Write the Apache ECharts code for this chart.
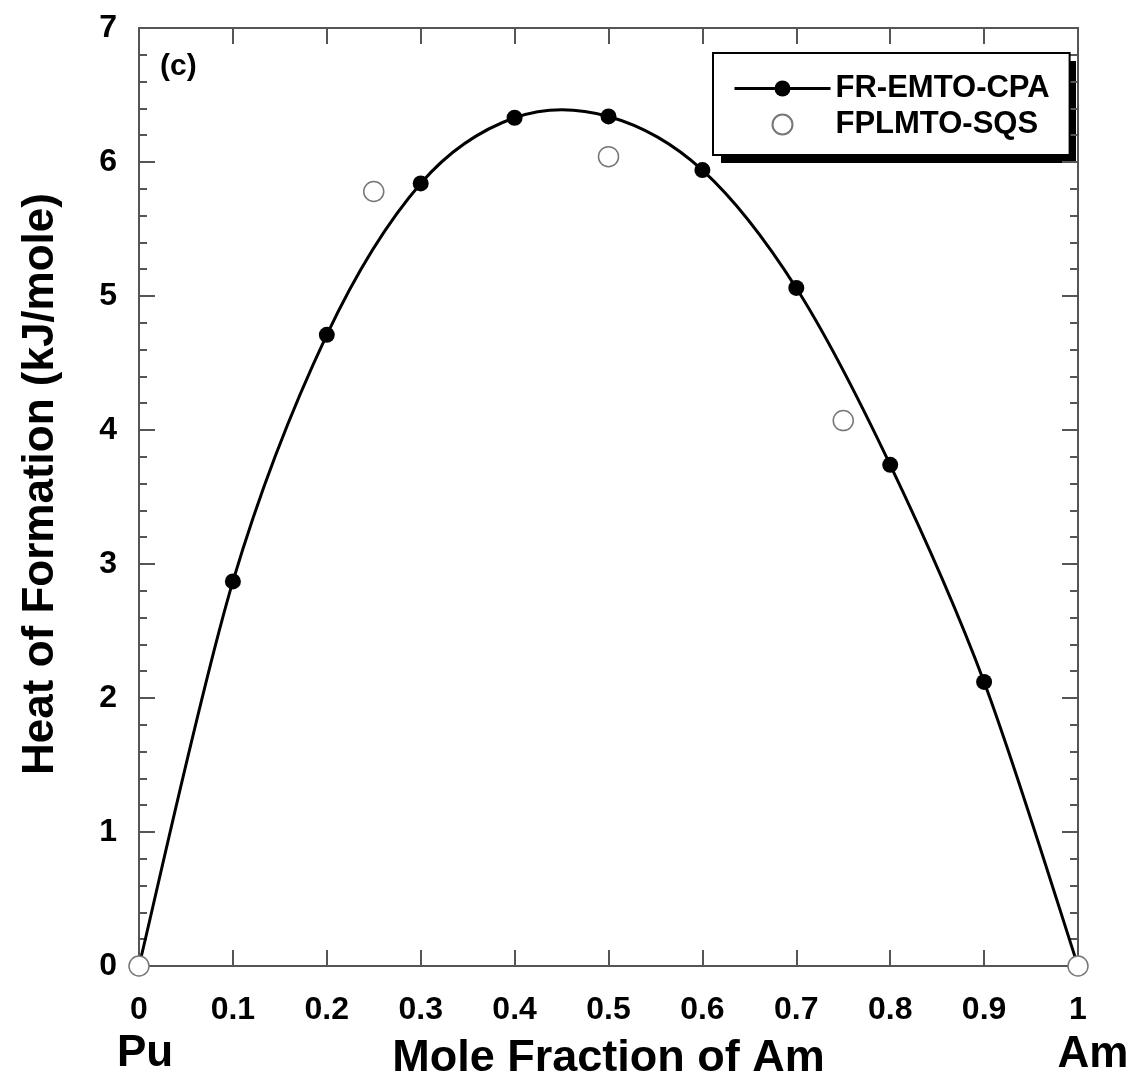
<!DOCTYPE html>
<html>
<head>
<meta charset="utf-8">
<title>Heat of Formation</title>
<script src="https://cdn.jsdelivr.net/npm/echarts@6/dist/echarts.min.js"></script>
<style>
html,body{margin:0;padding:0;background:#fff;}
#main{width:1136px;height:1089px;}
</style>
</head>
<body>
<div id="main"></div>
<script>
// 数据
var names = ['FR-EMTO-CPA', 'FPLMTO-SQS'];
var frX = [0, 0.1, 0.2, 0.3, 0.4, 0.5, 0.6, 0.7, 0.8, 0.9, 1];
var frY = [0, 2.87, 4.71, 5.84, 6.33, 6.34, 5.94, 5.06, 3.74, 2.12, 0];
var sqsX = [0, 0.25, 0.5, 0.75, 1];
var sqsY = [0, 5.78, 6.04, 4.07, 0];

var FONT = "'Liberation Sans', Arial, sans-serif";
var AXIS_COLOR = '#555';

var hofChart = {
    init: function (targetId, option) {
        var myChart = echarts.init(document.getElementById(targetId), null, {renderer: 'canvas'});
        myChart.setOption(option);
    },
    // 坐标轴公共样式
    axis: function (pos, showLabel) {
        var vertical = pos === 'left' || pos === 'right';
        return {
            type: 'value',
            position: pos,
            min: 0,
            max: vertical ? 7 : 1,
            interval: vertical ? 1 : 0.1,
            axisLine: {show: true, onZero: false, lineStyle: {color: AXIS_COLOR, width: 2}},
            axisTick: {show: true, inside: true, length: 16, lineStyle: {color: AXIS_COLOR, width: 2}},
            minorTick: {show: vertical, splitNumber: 5, length: 8, lineStyle: {color: AXIS_COLOR, width: 2}},
            axisLabel: {
                show: showLabel,
                margin: vertical ? 22 : 28,
                color: '#000',
                fontFamily: FONT,
                fontWeight: 'bold',
                fontSize: 32
            },
            splitLine: {show: false}
        };
    },
    // 平滑曲线（经过坐标轴换算后的 Catmull-Rom）
    curve: function (params, api) {
        if (params.dataIndex !== 0) return null;
        var pts = frX.map(function (x, i) { return api.coord([x, frY[i]]); });
        var n = pts.length, segs = [];
        for (var i = 0; i < n - 1; i++) {
            var p0 = pts[Math.max(i - 1, 0)], p1 = pts[i], p2 = pts[i + 1], p3 = pts[Math.min(i + 2, n - 1)];
            segs.push({
                type: 'bezierCurve',
                shape: {
                    x1: p1[0], y1: p1[1],
                    x2: p2[0], y2: p2[1],
                    cpx1: p1[0] + (p2[0] - p0[0]) / 6, cpy1: p1[1] + (p2[1] - p0[1]) / 6,
                    cpx2: p2[0] - (p3[0] - p1[0]) / 6, cpy2: p2[1] - (p3[1] - p1[1]) / 6
                },
                style: {fill: 'none', stroke: '#000', lineWidth: 3, lineCap: 'round'}
            });
        }
        return {type: 'group', children: segs};
    },
    draw: function (targetId) {
        var frData = frX.map(function (x, i) {
            var item = {value: [x, frY[i]]};
            if (i === 0 || i === frX.length - 1) item.symbol = 'none';
            return item;
        });
        var sqsData = sqsX.map(function (x, i) { return [x, sqsY[i]]; });

        var xBottom = this.axis('bottom', true);
        xBottom.name = 'Mole Fraction of Am';
        xBottom.nameLocation = 'middle';
        xBottom.nameGap = 70;
        xBottom.nameTextStyle = {color: '#000', fontFamily: FONT, fontWeight: 'bold', fontSize: 45};
        var xTop = this.axis('top', false);

        var yLeft = this.axis('left', true);
        yLeft.name = 'Heat of Formation (kJ/mole)';
        yLeft.nameLocation = 'middle';
        yLeft.nameGap = 76;
        yLeft.nameTextStyle = {color: '#000', fontFamily: FONT, fontWeight: 'bold', fontSize: 44, padding: [0, 0, 0, 26]};
        var yRight = this.axis('right', false);

        var option = {
            animation: false,
            backgroundColor: '#fff',
            grid: {left: 139, right: 58, top: 28, bottom: 123, containLabel: false, outerBoundsMode: 'none'},
            legend: {
                orient: 'vertical',
                left: 713,
                top: 53,
                padding: [20, 20, 15, 20],
                itemWidth: 96,
                itemHeight: 20,
                itemGap: 5,
                backgroundColor: '#fff',
                borderColor: '#000',
                borderWidth: 2,
                borderRadius: 0,
                lineStyle: {color: '#000', width: 3, opacity: 1, type: 'solid'},
                textStyle: {color: '#000', fontFamily: FONT, fontWeight: 'bold', fontSize: 31},
                data: names
            },
            xAxis: [xBottom, xTop],
            yAxis: [yLeft, yRight],
            graphic: [
                // 图例阴影
                {type: 'rect', z: 0, shape: {x: 721, y: 61, width: 355, height: 102}, style: {fill: '#000'}},
                {type: 'text', left: 160, top: 52, style: {text: '(c)', fill: '#000', font: 'bold 30px ' + FONT}},
                {type: 'text', x: 145, y: 1054, style: {text: 'Pu', fill: '#000', font: 'bold 44px ' + FONT, align: 'center', verticalAlign: 'middle'}},
                {type: 'text', x: 1093, y: 1055, style: {text: 'Am', fill: '#000', font: 'bold 44px ' + FONT, align: 'center', verticalAlign: 'middle'}}
            ],
            series: [{
                name: 'curve',
                type: 'custom',
                silent: true,
                clip: false,
                renderItem: this.curve,
                data: frX.map(function (x, i) { return [x, frY[i]]; }),
                z: 2
            }, {
                name: names[0],
                type: 'line',
                clip: false,
                symbol: 'circle',
                symbolSize: 16,
                lineStyle: {color: '#000', width: 0, opacity: 0},
                itemStyle: {color: '#000'},
                data: frData,
                z: 3
            }, {
                name: names[1],
                type: 'scatter',
                clip: false,
                symbol: 'circle',
                symbolSize: 20,
                itemStyle: {color: '#fff', borderColor: '#777', borderWidth: 1.5, opacity: 1},
                data: sqsData,
                z: 4
            }]
        };
        this.init(targetId, option);
    }
};

hofChart.draw('main');
</script>
</body>
</html>
